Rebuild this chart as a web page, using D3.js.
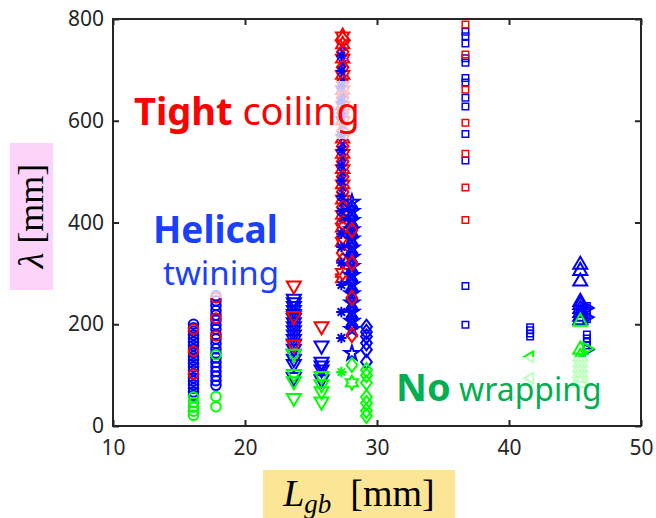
<!DOCTYPE html>
<html>
<head>
<meta charset="utf-8">
<script src="https://cdn.jsdelivr.net/npm/d3@7"></script>
<style>
  body { margin: 0; background: #fff; }
</style>
</head>
<body>
<div id="chart"></div>
<script>
// tick values
const xTicks = [10, 20, 30, 40, 50];
const yTicks = [0, 200, 400, 600, 800];

// column 1, L = 16.1 (circles)
const c1Blue = [200, 193, 186, 179, 172, 165, 158, 151, 144, 137, 130, 123, 116, 109, 102, 95, 88, 81, 74, 67, 60];
const c1Red = [190, 147, 102];
const c1Green = [57, 46, 37, 29, 21];
// column 2, L = 17.8 (circles)
const c2Blue = [256, 246, 237, 227, 218, 208, 199, 190, 180, 171, 162, 152, 143, 134, 125, 116, 107, 98, 89, 80];
const c2Red = [252, 212, 177];
const c2Green = [140, 58, 38];
// column 3, L = 23.7 (down triangles)
const c3Blue = [250, 243, 236, 228, 220, 212, 204, 196, 188, 180, 171, 162, 152, 142, 132, 122, 96];
const c3Red = [276, 216, 160];
const c3Green = [142, 102, 88, 55];
// column 4, L = 25.8 (down triangles)
const c4Blue = [158, 126, 119, 111, 92];
const c4Red = [196];
const c4Green = [98, 82, 68, 48];
// column 5, L = 27.4 (mixed markers)
const c5RedDiamond = [760, 735, 705, 676, 645, 615, 580, 550, 520, 490, 460, 430, 400, 372, 340, 325];
const c5RedHex = [766, 750, 722, 690, 660, 630, 600, 565, 535, 505, 475, 445, 415, 390, 362, 301, 290];
const c5BlueX = [745, 712, 682, 652, 620, 590, 555, 527, 497, 468, 438, 408, 385];
const c5BlueAst = [728, 698, 668, 638, 608, 572, 542, 512, 482, 452, 422, 378, 352, 321, 277, 224, 173];
const c5GreenAst = [106];
// column 6, L = 28.1
const c6BlueStar = [440, 422, 404, 386, 368, 350, 332, 314, 296, 278, 260, 242, 224, 206, 190, 143];
const c6BlueDiamond = [430, 412, 394, 376, 358, 340, 322, 304, 286, 268, 250, 232, 214, 198];
const c6RedDiamond = [385, 320, 252, 179];
const c6GreenDiamond = [120];
const c6GreenHex = [85];
// column 7, L = 29.2 (diamonds)
const c7Blue = [195, 185, 176, 163, 150, 126];
const c7Green = [110, 100, 85, 57, 45, 30, 20];
// column 8, L = 36.7 (squares)
const c8Blue = [775, 766, 752, 723, 714, 684, 675, 645, 628, 574, 522, 275, 199];
const c8Red = [789, 730, 661, 596, 535, 469, 405];
// column 9, L = 41.6
const c9Blue = [194, 188, 182, 176];
const c9Green = [136, 94];
// column 10, L = 45.4 (up triangles)
const c10Blue = [317, 305, 284, 244, 238, 230, 222, 215, 208];
const c10Green = [205, 150, 136, 125, 115, 105, 95, 85];
// column 11, L = 45.9
const c11BlueSquare = [236, 226, 218, 210, 180, 172, 165, 158];
const c11BlueTri = [232, 214, 150];
const c11GreenTri = [152];

const RED = "#ff0000", BLUE = "#0000ff", GREEN = "#00ff00";

// custom marker shapes
const hexagram = {
  draw(ctx, size) {
    const r = Math.sqrt(size / 1.6), ri = r / Math.sqrt(3);
    for (let i = 0; i < 12; i++) {
      const a = -Math.PI / 2 + i * Math.PI / 6, rr = i % 2 ? ri : r;
      if (i === 0) ctx.moveTo(rr * Math.cos(a), rr * Math.sin(a));
      else ctx.lineTo(rr * Math.cos(a), rr * Math.sin(a));
    }
    ctx.closePath();
  }
};
const asterisk = {
  draw(ctx, size) {
    const r = Math.sqrt(size) / 2;
    for (let i = 0; i < 4; i++) {
      const a = i * Math.PI / 4;
      ctx.moveTo(-r * Math.cos(a), -r * Math.sin(a));
      ctx.lineTo(r * Math.cos(a), r * Math.sin(a));
    }
  }
};
const cross = {
  draw(ctx, size) {
    const r = Math.sqrt(size) / 2.6;
    ctx.moveTo(-r, -r); ctx.lineTo(r, r);
    ctx.moveTo(-r, r); ctx.lineTo(r, -r);
  }
};
const diamond = {
  draw(ctx, size) {
    const w = Math.sqrt(size) * 0.6, h = Math.sqrt(size) * 0.8;
    ctx.moveTo(0, -h); ctx.lineTo(w, 0); ctx.lineTo(0, h); ctx.lineTo(-w, 0); ctx.closePath();
  }
};

const TRI = 85, CIR = 72, SQ = 42;
const series = [
  { L: 16.1, type: d3.symbolCircle, size: CIR, rot: 0, color: BLUE, values: c1Blue },
  { L: 17.8, type: d3.symbolCircle, size: CIR, rot: 0, color: BLUE, values: c2Blue },
  { L: 23.7, type: d3.symbolTriangle, size: TRI, rot: 180, color: BLUE, values: c3Blue },
  { L: 25.8, type: d3.symbolTriangle, size: TRI, rot: 180, color: BLUE, values: c4Blue },
  { L: 27.4, type: hexagram, size: 95, rot: 0, color: RED, values: c5RedHex },
  { L: 27.4, type: cross, size: 90, rot: 0, color: BLUE, values: c5BlueX },
  { L: 27.4, type: diamond, size: 95, rot: 0, color: RED, values: c5RedDiamond },
  { L: 27.3, type: asterisk, size: 110, rot: 0, color: BLUE, values: c5BlueAst },
  { L: 28.1, type: d3.symbolStar, size: 65, rot: 0, color: BLUE, values: c6BlueStar },
  { L: 28.1, type: diamond, size: 75, rot: 0, color: BLUE, values: c6BlueDiamond },
  { L: 29.2, type: diamond, size: 80, rot: 0, color: BLUE, values: c7Blue },
  { L: 36.7, type: d3.symbolSquare, size: SQ, rot: 0, color: BLUE, values: c8Blue },
  { L: 41.6, type: d3.symbolSquare, size: SQ, rot: 0, color: BLUE, values: c9Blue },
  { L: 45.4, type: d3.symbolTriangle, size: TRI, rot: 0, color: BLUE, values: c10Blue },
  { L: 45.9, type: d3.symbolSquare, size: SQ, rot: 0, color: BLUE, values: c11BlueSquare },
  { L: 45.9, type: d3.symbolTriangle, size: 60, rot: 90, color: BLUE, values: c11BlueTri },

  { L: 16.1, type: d3.symbolCircle, size: CIR, rot: 0, color: RED, values: c1Red },
  { L: 17.8, type: d3.symbolCircle, size: CIR, rot: 0, color: RED, values: c2Red },
  { L: 23.7, type: d3.symbolTriangle, size: TRI, rot: 180, color: RED, values: c3Red },
  { L: 25.8, type: d3.symbolTriangle, size: TRI, rot: 180, color: RED, values: c4Red },
  { L: 28.1, type: diamond, size: 80, rot: 0, color: RED, values: c6RedDiamond },
  { L: 36.7, type: d3.symbolSquare, size: SQ, rot: 0, color: RED, values: c8Red },

  { L: 16.1, type: d3.symbolCircle, size: CIR, rot: 0, color: GREEN, values: c1Green },
  { L: 17.8, type: d3.symbolCircle, size: CIR, rot: 0, color: GREEN, values: c2Green },
  { L: 23.7, type: d3.symbolTriangle, size: TRI, rot: 180, color: GREEN, values: c3Green },
  { L: 25.8, type: d3.symbolTriangle, size: TRI, rot: 180, color: GREEN, values: c4Green },
  { L: 27.3, type: asterisk, size: 110, rot: 0, color: GREEN, values: c5GreenAst },
  { L: 28.1, type: diamond, size: 80, rot: 0, color: GREEN, values: c6GreenDiamond },
  { L: 28.1, type: hexagram, size: 80, rot: 0, color: GREEN, values: c6GreenHex },
  { L: 29.2, type: diamond, size: 80, rot: 0, color: GREEN, values: c7Green },
  { L: 41.6, type: d3.symbolTriangle, size: 50, rot: -90, color: GREEN, values: c9Green },
  { L: 45.4, type: d3.symbolTriangle, size: TRI, rot: 0, color: GREEN, values: c10Green },
  { L: 45.9, type: d3.symbolTriangle, size: 60, rot: 90, color: GREEN, values: c11GreenTri }
];

// dimensions of the plot box
const margin = { top: 19, right: 15, bottom: 92, left: 113 };
const W = 656, H = 518;

const svg = d3.select("#chart").append("svg")
  .attr("width", W)
  .attr("height", H);

const x = d3.scaleLinear().domain([10, 50]).range([margin.left, W - margin.right]);
const y = d3.scaleLinear().domain([0, 800]).range([H - margin.bottom, margin.top]);

// coloured boxes behind axis labels
svg.append("rect")
  .attr("x", 10).attr("y", 143).attr("width", 43).attr("height", 147)
  .attr("fill", "#fbd3fb");
svg.append("rect")
  .attr("x", 263).attr("y", 470).attr("width", 192).attr("height", 48)
  .attr("fill", "#fde596");

// markers
const sym = d3.symbol();
series.forEach(s => {
  svg.append("g")
    .selectAll("path")
    .data(s.values)
    .enter().append("path")
    .attr("transform", d => "translate(" + x(s.L) + "," + y(d) + ") rotate(" + s.rot + ")")
    .attr("d", sym.type(s.type).size(s.size)())
    .attr("fill", "none")
    .attr("stroke", s.color)
    .attr("stroke-width", s.type === d3.symbolSquare ? 1.5 : 2);
});

// axes: ticks point inward, box drawn separately
const axisColor = "#262626";
const xb = svg.append("g")
  .attr("transform", "translate(0," + y(0) + ")")
  .call(d3.axisBottom(x).tickValues(xTicks).tickSizeInner(-6).tickSizeOuter(0).tickPadding(14));
const yl = svg.append("g")
  .attr("transform", "translate(" + x(10) + ",0)")
  .call(d3.axisLeft(y).tickValues(yTicks).tickSizeInner(-6).tickSizeOuter(0).tickPadding(9));
const xt = svg.append("g")
  .attr("transform", "translate(0," + y(800) + ")")
  .call(d3.axisTop(x).tickValues(xTicks).tickSizeInner(-6).tickSizeOuter(0).tickFormat(""));
const yr = svg.append("g")
  .attr("transform", "translate(" + x(50) + ",0)")
  .call(d3.axisRight(y).tickValues(yTicks).tickSizeInner(-6).tickSizeOuter(0).tickFormat(""));

[xb, yl, xt, yr].forEach(g => {
  g.select(".domain").remove();
  g.selectAll("line").attr("stroke", axisColor).attr("stroke-width", 2);
  g.selectAll("text")
    .attr("fill", axisColor)
    .style("font-family", "'Noto Sans', sans-serif")
    .style("font-size", "21px");
});

svg.append("rect")
  .attr("x", x(10)).attr("y", y(800))
  .attr("width", x(50) - x(10)).attr("height", y(0) - y(800))
  .attr("fill", "none")
  .attr("stroke", axisColor)
  .attr("stroke-width", 2);

// axis labels
svg.append("text")
  .attr("transform", "translate(43,216) rotate(-90)")
  .attr("text-anchor", "middle")
  .style("font-family", "'Liberation Serif', serif")
  .style("font-size", "36px")
  .call(t => {
    t.append("tspan").style("font-style", "italic").text("λ");
    t.append("tspan").text(" [mm]");
  });

svg.append("text")
  .attr("x", 359).attr("y", 506)
  .attr("text-anchor", "middle")
  .style("font-family", "'Liberation Serif', serif")
  .style("font-size", "38px")
  .call(t => {
    t.append("tspan").style("font-style", "italic").text("L");
    t.append("tspan").style("font-style", "italic").style("font-size", "27px")
      .attr("dy", 7).text("gb");
    t.append("tspan").attr("dy", -7).text("\u2002[mm]");
  });

// region annotations, each on a half-transparent white box
function note(lines, color) {
  const g = svg.append("g");
  const box = g.append("rect").attr("fill", "#fff").attr("fill-opacity", 0.75);
  lines.forEach(l => {
    const t = g.append("text")
      .attr("x", l.x).attr("y", l.y)
      .attr("fill", color)
      .style("font-family", "'Noto Sans', sans-serif");
    l.parts.forEach(p => t.append("tspan")
      .style("font-weight", p[1])
      .style("font-size", p[2] + "px")
      .text(p[0]));
  });
  const bb = g.node().getBBox();
  box.attr("x", bb.x - 3).attr("y", bb.y - 3)
    .attr("width", bb.width + 6).attr("height", bb.height + 6);
}

note([{ x: 134, y: 125, parts: [["Tight", "bold", 38], [" coiling", "normal", 38]] }], "#ff0000");
note([
  { x: 153, y: 243, parts: [["Helical", "bold", 37]] },
  { x: 163, y: 285, parts: [["twining", "normal", 33]] }
], "#1a40ff");
note([{ x: 396, y: 401, parts: [["No", "bold", 38], [" wrapping", "normal", 32]] }], "#00b050");
</script>
</body>
</html>
